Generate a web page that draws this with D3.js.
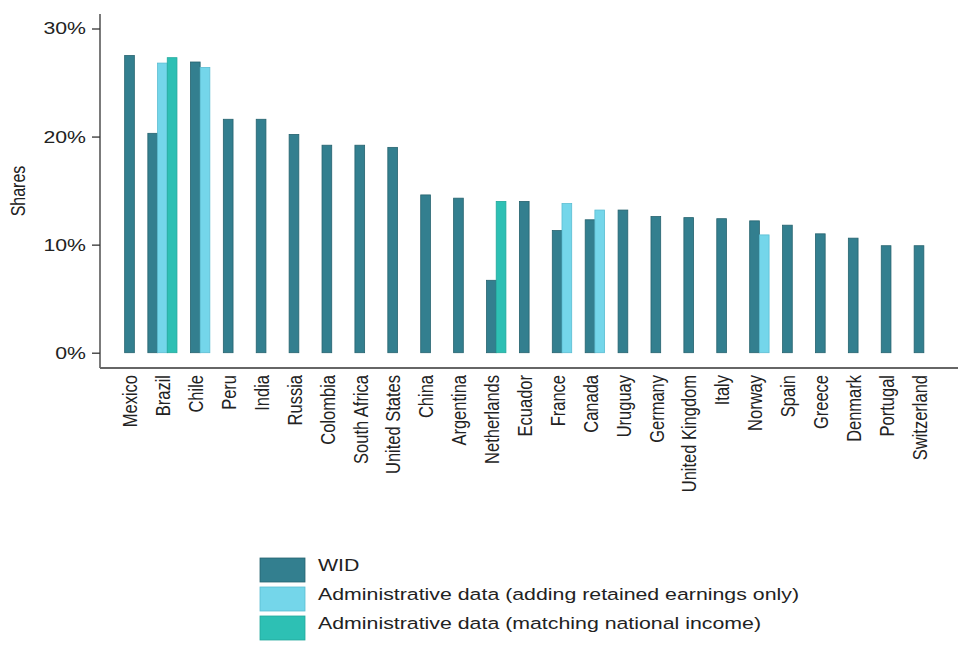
<!DOCTYPE html>
<html lang="en">
<head>
    <meta charset="UTF-8"/>
    <title>Shares by country</title>
    <script src="https://d3js.org/d3.v7.min.js" charset="utf-8"></script>
    <style type="text/css">
        body {
            margin: 0;
            background: #fff;
        }

        text {
            font-family: "Liberation Sans", Arial, sans-serif;
            fill: #222;
        }
    </style>
</head>
<body>
<svg id="chart" width="960" height="651"></svg>
<script>
    // data
    var countries = ["Mexico", "Brazil", "Chile", "Peru", "India", "Russia", "Colombia", "South Africa",
        "United States", "China", "Argentina", "Netherlands", "Ecuador", "France", "Canada", "Uruguay",
        "Germany", "United Kingdom", "Italy", "Norway", "Spain", "Greece", "Denmark", "Portugal", "Switzerland"];
    var wid = [27.5, 20.3, 26.9, 21.6, 21.6, 20.2, 19.2, 19.2, 19.0, 14.6, 14.3, 6.7, 14.0, 11.3, 12.3, 13.2,
        12.6, 12.5, 12.4, 12.2, 11.8, 11.0, 10.6, 9.9, 9.9];
    var retained = [null, 26.8, 26.4, null, null, null, null, null, null, null, null, null, null, 13.8, 13.2, null,
        null, null, null, 10.9, null, null, null, null, null];
    var matching = [null, 27.3, null, null, null, null, null, null, null, null, null, 14.0, null, null, null, null,
        null, null, null, null, null, null, null, null, null];
    var seriesNames = ["WID", "Administrative data (adding retained earnings only)",
        "Administrative data (matching national income)"];
    var yTicks = [0, 10, 20, 30];

    var colors = ["#337f8f", "#74d6ea", "#2dc0b4"];
    var strokes = ["#26636f", "#5bbdd2", "#22a89c"];

    var svg = d3.select("#chart");
    var margin = {left: 100, top: 14, axisY: 368, right: 958};

    var x = d3.scalePoint()
        .domain(countries)
        .range([129.5, 919]);
    var barW = x.step() * 0.295;

    var y = d3.scaleLinear()
        .domain([0, 30])
        .range([352.7, 28.5]);

    // the original text is wider than Arial, stretch it sideways
    var stretch = 1.25;

    function widen(sel, k) {
        sel.each(function () {
            var w = this.getComputedTextLength();
            d3.select(this).attr("textLength", w * k).attr("lengthAdjust", "spacingAndGlyphs");
        });
    }

    // bars
    var series = [wid, retained, matching];
    var rows = [];
    countries.forEach(function (c, i) {
        var present = [];
        series.forEach(function (s, k) {
            if (s[i] != null) present.push({country: c, k: k, v: s[i]});
        });
        var mid = Math.floor((present.length - 1) / 2);
        present.forEach(function (d, j) {
            d.off = j - mid;
            rows.push(d);
        });
    });

    svg.append("g").selectAll("rect")
        .data(rows)
        .enter()
        .append("rect")
        .attr("x", function (d) { return x(d.country) - barW / 2 + d.off * barW; })
        .attr("y", function (d) { return y(d.v); })
        .attr("width", barW)
        .attr("height", function (d) { return y(0) - y(d.v); })
        .attr("fill", function (d) { return colors[d.k]; })
        .attr("stroke", function (d) { return strokes[d.k]; })
        .attr("stroke-width", 0.8);

    // Y axis
    var yAxis = svg.append("g")
        .attr("transform", "translate(" + margin.left + ",0)")
        .call(d3.axisLeft(y).tickValues(yTicks).tickSize(8).tickPadding(6)
            .tickFormat(function (d) { return d + "%"; }));
    yAxis.select(".domain").remove();
    yAxis.selectAll("line").attr("stroke", "#333").attr("stroke-width", 1.3);
    yAxis.selectAll("text")
        .style("font-size", "17px")
        .attr("fill", "#222")
        .call(widen, stretch);

    svg.append("line")
        .attr("x1", margin.left).attr("x2", margin.left)
        .attr("y1", margin.top).attr("y2", margin.axisY)
        .attr("stroke", "#333").attr("stroke-width", 1.3);

    // X axis
    var xAxis = svg.append("g")
        .attr("transform", "translate(0," + margin.axisY + ")")
        .call(d3.axisBottom(x).tickSize(0));
    xAxis.select(".domain").remove();
    xAxis.selectAll("text")
        .attr("transform", "scale(" + stretch + ",1)rotate(-90)")
        .attr("x", -7)
        .attr("y", 0)
        .attr("dy", "0.35em")
        .style("text-anchor", "end")
        .style("font-size", "16.5px")
        .attr("fill", "#222");

    svg.append("line")
        .attr("x1", margin.left).attr("x2", margin.right)
        .attr("y1", margin.axisY).attr("y2", margin.axisY)
        .attr("stroke", "#666").attr("stroke-width", 2);

    // axis title
    svg.append("text")
        .attr("transform", "translate(18,191)scale(" + stretch + ",1)rotate(-90)")
        .attr("dy", "0.35em")
        .style("text-anchor", "middle")
        .style("font-size", "16px")
        .text("Shares");

    // legend
    var legend = svg.append("g")
        .attr("transform", "translate(260,558)")
        .selectAll("g")
        .data(seriesNames)
        .enter()
        .append("g")
        .attr("transform", function (d, i) { return "translate(0," + i * 29 + ")"; });
    legend.append("rect")
        .attr("width", 45)
        .attr("height", 24)
        .attr("fill", function (d, i) { return colors[i]; })
        .attr("stroke", function (d, i) { return strokes[i]; })
        .attr("stroke-width", 0.8);
    legend.append("text")
        .attr("x", 58)
        .attr("y", 13)
        .style("font-size", "16.8px")
        .text(function (d) { return d; })
        .call(widen, 1.27);
</script>
</body>
</html>
